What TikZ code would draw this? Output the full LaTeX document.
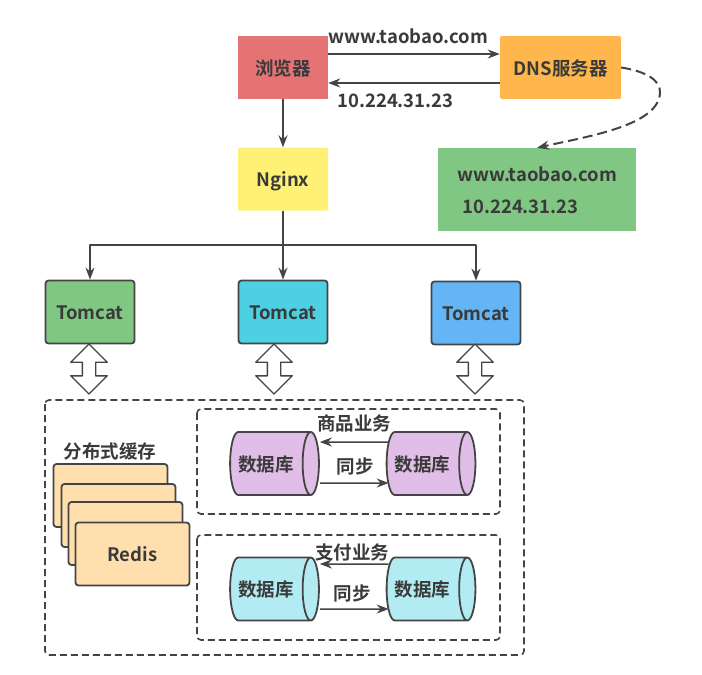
\documentclass[tikz,border=0pt]{standalone}
\usepackage{fontspec}
\setmainfont{Noto Sans CJK SC}[BoldFont=* Bold]
\usetikzlibrary{arrows.meta,shapes.geometric,shapes.arrows}
\definecolor{ink}{HTML}{444444}
\definecolor{redbox}{HTML}{E57373}
\definecolor{orangebox}{HTML}{FFB74D}
\definecolor{yellowbox}{HTML}{FFF176}
\definecolor{greenbox}{HTML}{81C784}
\definecolor{cyanbox}{HTML}{4DD0E1}
\definecolor{bluebox}{HTML}{64B5F6}
\definecolor{purpledb}{HTML}{E1BEE7}
\definecolor{cyandb}{HTML}{B2EBF2}
\definecolor{redisbox}{HTML}{FFDFAE}
\newcommand{\dbname}{数据库\kern8pt}
\tikzset{
    label text/.style={font=\bfseries\fontsize{18.5}{20}\selectfont,text=ink!85!black,inner sep=0pt,text height=15.5pt,text depth=0pt},
    flat box/.style={label text,minimum width=90pt,minimum height=63pt,rounded corners=1.5pt},
    tomcat box/.style={flat box,draw=ink,line width=1.8pt,minimum width=89pt,minimum height=63pt,rounded corners=3pt},
    redis box/.style={label text,draw=ink,fill=redisbox,line width=1.8pt,minimum width=114pt,minimum height=63pt,rounded corners=3pt},
    db/.style={label text,cylinder,shape aspect=1.05,draw=ink,line width=1.8pt,minimum width=63pt,minimum height=88pt,cylinder uses custom fill},
    flow/.style={draw=ink,line width=1.8pt,-{Stealth[length=12pt,width=9pt]}},
    thin flow/.style={draw=ink,line width=1.5pt,-{Stealth[length=12pt,width=9pt]}},
    frame/.style={draw=ink,line width=1.6pt,dash pattern=on 7pt off 4pt,rounded corners=4pt},
    link/.style={double arrow,draw=ink,line width=1.4pt,fill=white,rotate=90,minimum height=50pt,inner sep=6pt,double arrow head extend=11.5pt}
}
\begin{document}
\begin{tikzpicture}[line cap=butt,line join=round,x=1pt,y=-1pt]
    \useasboundingbox (0,0) rectangle (702,675);

    % top row
    \node[flat box,fill=redbox,rounded corners=0pt] (browser) at (283,67.5) {浏览器};
    \node[flat box,fill=orangebox,minimum width=121pt] (dns) at (560.5,67.5) {DNS服务器};
    \node[flat box,fill=yellowbox] (nginx) at (283,179) {Nginx};
    \node[flat box,fill=greenbox,rounded corners=0pt,minimum width=198pt,minimum height=83pt] (answer) at (537,189.5) {};
    \node[label text] (answerhost) at (537.5,174) {www.taobao.com};
    \node[label text] (answerip) at (520.5,206) {10.224.31.23};

    \node[label text] (hostlabel) at (408.5,36) {www.taobao.com};
    \node[label text] (iplabel) at (395.5,100) {10.224.31.23};

    % tomcat row
    \node[tomcat box,fill=greenbox] (tomcata) at (90,312) {Tomcat};
    \node[tomcat box,fill=cyanbox] (tomcatb) at (283,312) {Tomcat};
    \node[tomcat box,fill=bluebox] (tomcatc) at (476,313) {Tomcat};
    \coordinate (fork) at (283,245);

    \draw[flow] ([yshift=13.5pt]browser.east) -- ([yshift=13.5pt]dns.west);
    \draw[flow] ([yshift=-15.5pt]dns.west) -- ([yshift=-15.5pt]browser.east);
    \draw[flow] (browser) -- (nginx);
    \draw[flow] (nginx) -- (tomcatb);
    \draw[flow] (fork) -| (tomcata);
    \draw[flow] (fork) -| (tomcatc);
    \draw[flow,line width=2pt,dash pattern=on 10pt off 5pt] (dns.east) .. controls (650,72) and (660,82) .. (660,92) .. controls (660,125) and (590,136) .. (answer.north);

    \node[link] (linka) at (89,369) {};
    \node[link] (linkb) at (274,369) {};
    \node[link] (linkc) at (475,369) {};

    % storage area
    \draw[frame] (45,400) rectangle (524,655);
    \draw[frame] (197,409) rectangle (500,514);
    \draw[frame] (197,535) rectangle (500,640);

    \node[label text] (cachelabel) at (110,451) {分布式缓存};
    \node[redis box] (redisa) at (110.5,495.5) {};
    \node[redis box] (redisb) at (118.5,515.5) {};
    \node[redis box] (redisc) at (125.5,533.5) {};
    \node[redis box] (redisd) at (132.5,554) {Redis};

    \node[db,cylinder body fill=purpledb,cylinder end fill=purpledb] (dbgooda) at (270,463.5) {\dbname};
    \node[db,cylinder body fill=purpledb,cylinder end fill=purpledb] (dbgoodb) at (426.5,463.5) {\dbname};
    \node[db,cylinder body fill=cyandb,cylinder end fill=cyandb] (dbpaya) at (270,589) {\dbname};
    \node[db,cylinder body fill=cyandb,cylinder end fill=cyandb] (dbpayb) at (426.5,589) {\dbname};

    \draw[thin flow] ([xshift=3pt,yshift=21.5pt]dbgoodb.west) -- ([yshift=21.5pt]dbgooda.east);
    \draw[thin flow] ([yshift=-19.5pt]dbgooda.east) -- ([xshift=3pt,yshift=-19.5pt]dbgoodb.west);
    \draw[thin flow] ([xshift=3pt,yshift=25pt]dbpayb.west) -- ([yshift=25pt]dbpaya.east);
    \draw[thin flow] ([yshift=-20pt]dbpaya.east) -- ([xshift=3pt,yshift=-20pt]dbpayb.west);

    \node[label text] (goodlabel) at (354,423) {商品业务};
    \node[label text] (goodsync) at (355,466) {同步};
    \node[label text] (paylabel) at (352,552) {支付业务};
    \node[label text] (paysync) at (352,593) {同步};
\end{tikzpicture}
\end{document}
